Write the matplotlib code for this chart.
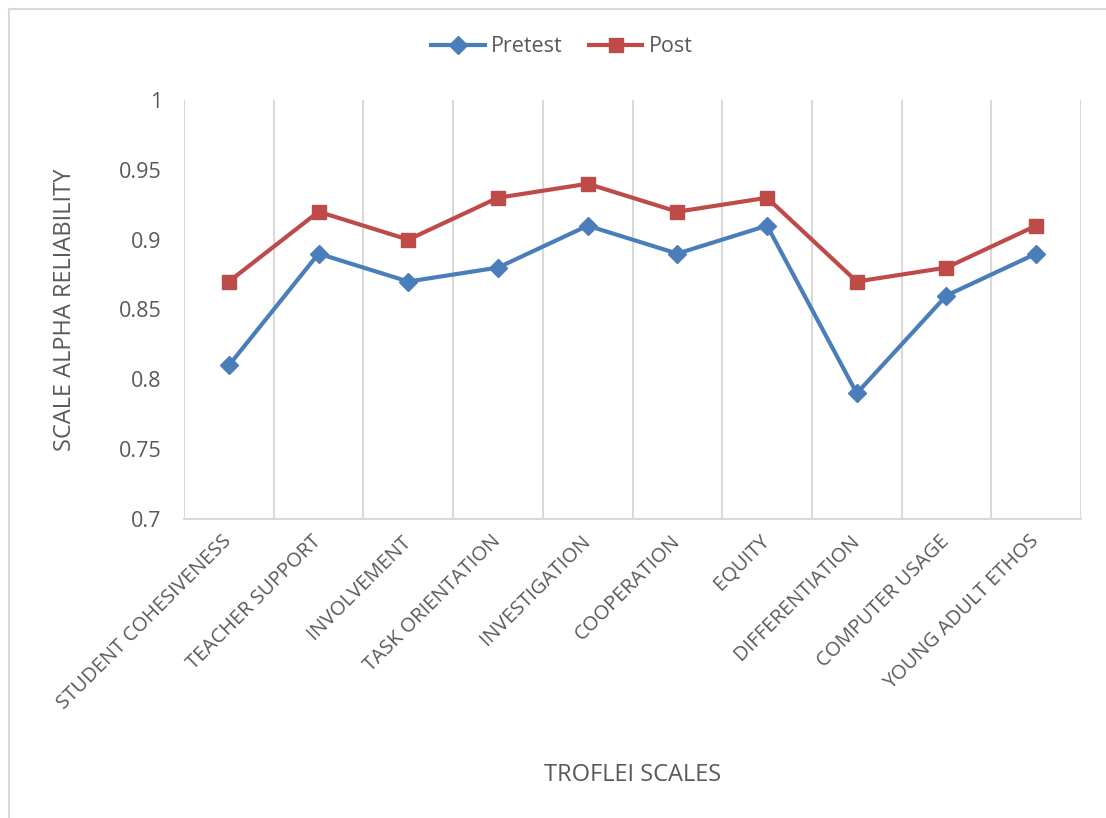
import matplotlib.pyplot as plt
from matplotlib.lines import Line2D

# TROFLEI scale reliabilities
scales = ["STUDENT COHESIVENESS", "TEACHER SUPPORT", "INVOLVEMENT",
          "TASK ORIENTATION", "INVESTIGATION", "COOPERATION", "EQUITY",
          "DIFFERENTIATION", "COMPUTER USAGE", "YOUNG ADULT ETHOS"]
pretest = [0.81, 0.89, 0.87, 0.88, 0.91, 0.89, 0.91, 0.79, 0.86, 0.89]
post = [0.87, 0.92, 0.90, 0.93, 0.94, 0.92, 0.93, 0.87, 0.88, 0.91]
y_ticks = [0.7, 0.75, 0.8, 0.85, 0.9, 0.95, 1.0]

plt.rcParams['font.family'] = ['Open Sans', 'DejaVu Sans']
text_col = "#595959"
grid_col = "#d9d9d9"

fig = plt.figure(figsize=(11.06, 8.18), dpi=100)
ax = fig.add_axes([0.1664, 0.3655, 0.8110, 0.5123])

x = list(range(len(scales)))
ax.plot(x, pretest, color="#4a7ebb", lw=3, marker="D", ms=9, label="Pretest")
ax.plot(x, post, color="#be4b48", lw=3, marker="s", ms=10, label="Post")

ax.set_xlim(-0.5, len(scales) - 0.5)
ax.set_ylim(0.7, 1.0)
ax.set_yticks(y_ticks)
ax.set_yticklabels(["0.7", "0.75", "0.8", "0.85", "0.9", "0.95", "1"])

# vertical gridlines between categories
for b in range(len(scales) + 1):
    ax.axvline(b - 0.5, color=grid_col, lw=1.5, zorder=0)

for s in ["top", "right", "left"]:
    ax.spines[s].set_visible(False)
ax.spines["bottom"].set_color(grid_col)
ax.spines["bottom"].set_linewidth(1.5)

ax.set_xticks(x)
ax.set_xticklabels(scales, rotation=45, ha="right", va="center",
                   rotation_mode="anchor", fontsize=14.5, color=text_col)
ax.tick_params(axis="x", length=0, pad=14)
ax.tick_params(axis="y", length=0, pad=16, labelsize=15.5, labelcolor=text_col)

ax.set_ylabel("SCALE ALPHA RELIABILITY", fontsize=17, color=text_col, labelpad=30)
fig.text(0.5715, 0.052, "TROFLEI SCALES", fontsize=17, color=text_col,
         ha="center", va="center")

handles = [Line2D([], [], color="#4a7ebb", lw=3, marker="D", ms=9),
           Line2D([], [], color="#be4b48", lw=3, marker="s", ms=10)]
fig.legend(handles, ["Pretest", "Post"], loc="center", bbox_to_anchor=(0.508, 0.943),
           ncol=2, frameon=False, fontsize=15.5, labelcolor=text_col,
           handlelength=2.5, columnspacing=1.2, handletextpad=0.3)

# outer chart border (top and left visible in crop)
fig.add_artist(Line2D([0.0081, 1.0], [0.989, 0.989], color=grid_col, lw=1.5,
                      transform=fig.transFigure))
fig.add_artist(Line2D([0.0081, 0.0081], [0.0, 0.989], color=grid_col, lw=1.5,
                      transform=fig.transFigure))

fig.savefig("out.png", dpi=100)
